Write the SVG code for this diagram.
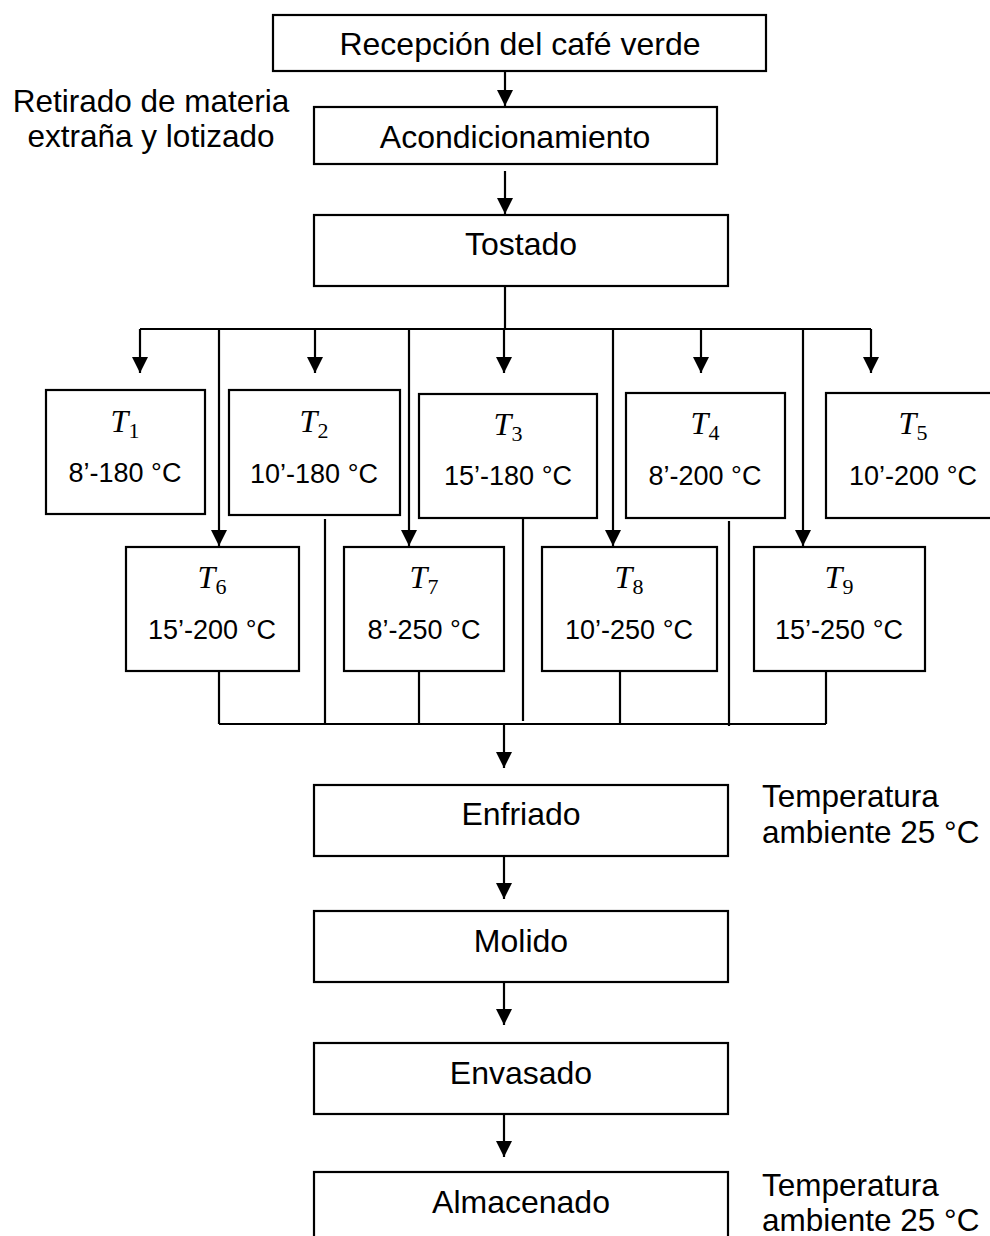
<svg xmlns="http://www.w3.org/2000/svg" width="990" height="1236" viewBox="0 0 990 1236">
<style>
.box{fill:#fff;stroke:#000;stroke-width:2.2}
.ln{fill:none;stroke:#000;stroke-width:2.2}
.arr{fill:none;stroke:#000;stroke-width:2.2;marker-end:url(#ah)}
.t{font-family:"Liberation Sans",Arial,sans-serif;font-size:32px;fill:#000;text-anchor:middle}
.side{font-family:"Liberation Sans",Arial,sans-serif;font-size:31.5px;fill:#000}
.tv{font-family:"Liberation Sans",Arial,sans-serif;font-size:27px;fill:#000;text-anchor:middle}
.tl{font-family:"Liberation Serif","Times New Roman",serif;font-size:32px;fill:#000;text-anchor:middle}
.sub{font-size:22px;font-style:normal}
</style>
<defs>
<marker id="ah" viewBox="0 0 16 16" markerWidth="16" markerHeight="16" refX="16" refY="8" orient="auto" markerUnits="userSpaceOnUse">
<path d="M0,0 L16,8 L0,16 z" fill="#000"/>
</marker>
</defs>
<rect width="990" height="1236" fill="#fff"/>

<g id="connectors">
<line class="arr" x1="505" y1="71" x2="505" y2="106"/>
<line class="arr" x1="505" y1="171" x2="505" y2="214"/>
<line class="ln" x1="505" y1="286" x2="505" y2="329"/>
<line class="ln" x1="140" y1="329" x2="871" y2="329"/>
<line class="arr" x1="140" y1="329" x2="140" y2="373"/>
<line class="arr" x1="315" y1="329" x2="315" y2="373"/>
<line class="arr" x1="504" y1="329" x2="504" y2="373"/>
<line class="arr" x1="701" y1="329" x2="701" y2="373"/>
<line class="arr" x1="871" y1="329" x2="871" y2="373"/>
<line class="arr" x1="219" y1="329" x2="219" y2="546"/>
<line class="arr" x1="409" y1="329" x2="409" y2="546"/>
<line class="arr" x1="613" y1="329" x2="613" y2="546"/>
<line class="arr" x1="803" y1="329" x2="803" y2="546"/>
<line class="ln" x1="219" y1="724" x2="826" y2="724"/>
<line class="ln" x1="219" y1="671" x2="219" y2="724"/>
<line class="ln" x1="325" y1="519" x2="325" y2="724"/>
<line class="ln" x1="419" y1="671" x2="419" y2="724"/>
<line class="ln" x1="523" y1="516" x2="523" y2="721"/>
<line class="ln" x1="620" y1="671" x2="620" y2="724"/>
<line class="ln" x1="729" y1="521" x2="729" y2="726"/>
<line class="ln" x1="826" y1="671" x2="826" y2="724"/>
<line class="arr" x1="504" y1="724" x2="504" y2="768"/>
<line class="arr" x1="504" y1="856" x2="504" y2="899"/>
<line class="arr" x1="504" y1="982" x2="504" y2="1025"/>
<line class="arr" x1="504" y1="1114" x2="504" y2="1157"/>
</g>

<g id="recepcion">
<rect class="box" x="273" y="15" width="493" height="56"/>
<text class="t" x="520" y="55">Recepción del café verde</text>
</g>
<g id="acondicionamiento">
<rect class="box" x="314" y="107" width="403" height="57"/>
<text class="t" x="515" y="148">Acondicionamiento</text>
</g>
<g id="nota-retirado">
<text class="side" text-anchor="middle" x="151" y="112">Retirado de materia</text>
<text class="side" text-anchor="middle" x="151" y="147">extraña y lotizado</text>
</g>
<g id="tostado">
<rect class="box" x="314" y="215" width="414" height="71"/>
<text class="t" x="521" y="255">Tostado</text>
</g>

<g id="T1">
<rect class="box" x="46" y="390" width="159" height="124"/>
<text class="tl" x="125" y="432"><tspan font-style="italic">T</tspan><tspan class="sub" dy="6">1</tspan></text>
<text class="tv" x="125" y="482">8’-180 °C</text>
</g>
<g id="T2">
<rect class="box" x="229" y="390" width="171" height="125"/>
<text class="tl" x="314" y="432"><tspan font-style="italic">T</tspan><tspan class="sub" dy="6">2</tspan></text>
<text class="tv" x="314" y="483">10’-180 °C</text>
</g>
<g id="T3">
<rect class="box" x="419" y="394" width="178" height="124"/>
<text class="tl" x="508" y="435"><tspan font-style="italic">T</tspan><tspan class="sub" dy="6">3</tspan></text>
<text class="tv" x="508" y="485">15’-180 °C</text>
</g>
<g id="T4">
<rect class="box" x="626" y="393" width="159" height="125"/>
<text class="tl" x="705" y="434"><tspan font-style="italic">T</tspan><tspan class="sub" dy="6">4</tspan></text>
<text class="tv" x="705" y="485">8’-200 °C</text>
</g>
<g id="T5">
<rect class="box" x="826" y="393" width="175" height="125"/>
<text class="tl" x="913" y="434"><tspan font-style="italic">T</tspan><tspan class="sub" dy="6">5</tspan></text>
<text class="tv" x="913" y="485">10’-200 °C</text>
</g>
<g id="T6">
<rect class="box" x="126" y="547" width="173" height="124"/>
<text class="tl" x="212" y="588"><tspan font-style="italic">T</tspan><tspan class="sub" dy="6">6</tspan></text>
<text class="tv" x="212" y="639">15’-200 °C</text>
</g>
<g id="T7">
<rect class="box" x="344" y="547" width="160" height="124"/>
<text class="tl" x="424" y="588"><tspan font-style="italic">T</tspan><tspan class="sub" dy="6">7</tspan></text>
<text class="tv" x="424" y="639">8’-250 °C</text>
</g>
<g id="T8">
<rect class="box" x="542" y="547" width="175" height="124"/>
<text class="tl" x="629" y="588"><tspan font-style="italic">T</tspan><tspan class="sub" dy="6">8</tspan></text>
<text class="tv" x="629" y="639">10’-250 °C</text>
</g>
<g id="T9">
<rect class="box" x="754" y="547" width="171" height="124"/>
<text class="tl" x="839" y="588"><tspan font-style="italic">T</tspan><tspan class="sub" dy="6">9</tspan></text>
<text class="tv" x="839" y="639">15’-250 °C</text>
</g>

<g id="enfriado">
<rect class="box" x="314" y="785" width="414" height="71"/>
<text class="t" x="521" y="825">Enfriado</text>
</g>
<g id="nota-enfriado">
<text class="side" x="762" y="807">Temperatura</text>
<text class="side" x="762" y="843">ambiente 25 °C</text>
</g>
<g id="molido">
<rect class="box" x="314" y="911" width="414" height="71"/>
<text class="t" x="521" y="952">Molido</text>
</g>
<g id="envasado">
<rect class="box" x="314" y="1043" width="414" height="71"/>
<text class="t" x="521" y="1084">Envasado</text>
</g>
<g id="almacenado">
<rect class="box" x="314" y="1172" width="414" height="80"/>
<text class="t" x="521" y="1213">Almacenado</text>
</g>
<g id="nota-almacenado">
<text class="side" x="762" y="1196">Temperatura</text>
<text class="side" x="762" y="1231">ambiente 25 °C</text>
</g>
</svg>
